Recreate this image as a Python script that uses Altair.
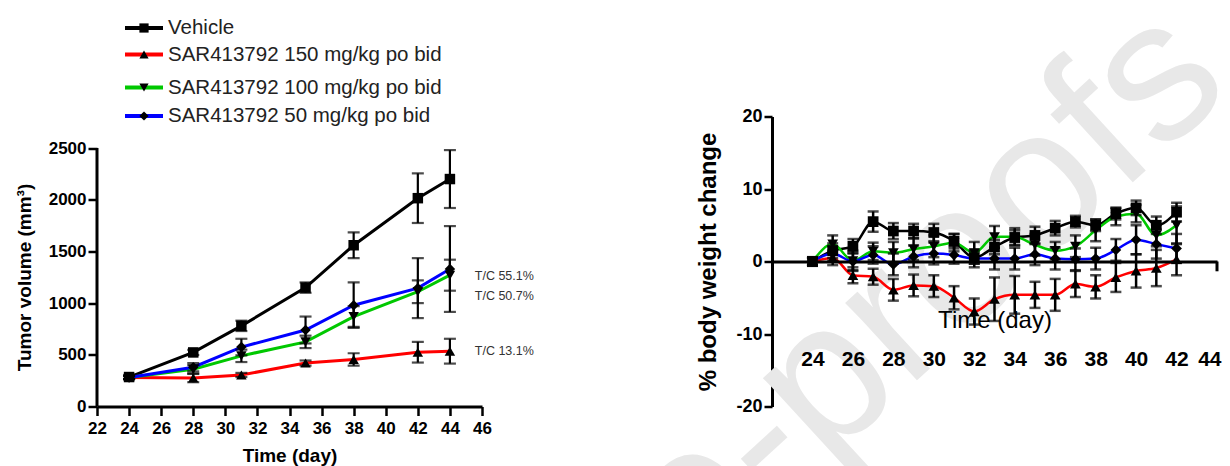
import altair as alt
import pandas as pd

FONT = "Liberation Sans, Arial, Helvetica, sans-serif"

# ---------------- shared series definitions ----------------
series_names = ["Vehicle", "SAR413792 150 mg/kg po bid",
                "SAR413792 100 mg/kg po bid", "SAR413792 50 mg/kg po bid"]
series_colors = ["#000000", "#ff0000", "#00c800", "#0000ff"]
series_shapes = ["square", "triangle-up", "triangle-down", "diamond"]

# ---------------- left panel: tumor volume ----------------
tv_days = [24, 28, 31, 35, 38, 42, 44]
tv_vehicle = [285, 523, 780, 1150, 1560, 2015, 2200]
tv_vehicle_err = [20, 25, 50, 50, 125, 240, 280]
tv_150 = [280, 275, 305, 420, 455, 525, 535]
tv_150_err = [15, 40, 20, 25, 60, 100, 120]
tv_100 = [280, 360, 490, 625, 870, 1110, 1270]
tv_100_err = [15, 40, 60, 60, 100, 110, 150]
tv_50 = [280, 380, 575, 740, 980, 1145, 1330]
tv_50_err = [15, 40, 80, 130, 220, 290, 415]

tc_labels = ["T/C 55.1%", "T/C 50.7%", "T/C 13.1%"]
tc_x = [45.55, 45.55, 45.55]
tc_y = [1260, 1064, 541]

# ---------------- right panel: body weight ----------------
rw_days = list(range(24, 43))
rw_vehicle = [0.0, 1.5, 2.1, 5.5, 4.2, 4.2, 4.0, 2.8, 0.5, 2.0, 3.3, 3.6, 4.6, 5.5, 5.0, 6.6, 7.4, 5.0, 6.8]
rw_vehicle_err = [0.6, 1.0, 1.0, 1.4, 1.1, 1.0, 1.2, 1.0, 0.8, 1.0, 1.0, 1.2, 1.0, 0.8, 0.8, 0.8, 1.0, 1.2, 1.3]
rw_150 = [0.0, 0.5, -1.9, -2.1, -3.9, -3.3, -3.4, -5.0, -6.9, -5.2, -4.6, -4.6, -4.6, -3.1, -3.5, -2.2, -1.3, -0.9, 0.3]
rw_150_err = [0.5, 1.0, 1.1, 1.1, 1.5, 1.5, 1.5, 1.6, 1.8, 3.0, 2.6, 1.8, 2.2, 1.8, 1.6, 2.0, 2.3, 2.5, 2.2]
rw_100 = [0.0, 2.4, 0.1, 1.4, 1.2, 1.7, 2.1, 2.6, 1.2, 3.4, 3.4, 2.3, 1.5, 2.1, 4.3, 6.2, 6.6, 3.6, 5.0]
rw_100_err = [0.5, 1.2, 1.4, 1.2, 1.5, 1.5, 1.5, 1.2, 1.5, 1.5, 1.2, 1.5, 1.2, 1.5, 1.5, 1.2, 1.2, 1.5, 2.6]
rw_50 = [0.0, 1.1, 0.0, 0.9, -0.4, 0.7, 1.1, 0.9, 0.4, 0.4, 0.4, 1.0, 0.4, 0.3, 0.4, 1.6, 3.0, 2.4, 1.8]
rw_50_err = [0.5, 1.0, 1.2, 1.2, 1.5, 1.5, 1.5, 1.2, 1.2, 1.5, 1.5, 1.5, 1.5, 1.5, 1.5, 1.5, 2.0, 2.0, 2.0]

# legend rows (pixel offsets above the left plot area)
legend_y = [-88.5, -62, -29, -0.5]


def long_table(days, values, errs):
    rows = []
    for i, (vals, ers) in enumerate(zip(values, errs)):
        for d, v, e in zip(days, vals, ers):
            rows.append(dict(day=d, value=v, lo=v - e, hi=v + e,
                             series=series_names[i], color=series_colors[i],
                             shape=series_shapes[i], order=i))
    return pd.DataFrame(rows)


tv = long_table(tv_days, [tv_vehicle, tv_150, tv_100, tv_50],
                [tv_vehicle_err, tv_150_err, tv_100_err, tv_50_err])
rw = long_table(rw_days, [rw_vehicle, rw_150, rw_100, rw_50],
                [rw_vehicle_err, rw_150_err, rw_100_err, rw_50_err])
tc = pd.DataFrame(dict(label=tc_labels, x=tc_x, y=tc_y))
leg = pd.DataFrame(dict(label=series_names, color=series_colors,
                        shape=series_shapes, ypix=legend_y))

LABEL_EXPR = "'' + datum.value"
NO_FRAME = alt.ViewBackground(stroke="transparent", strokeWidth=0, strokeOpacity=0)

# ---------------- left chart ----------------
lx = alt.Scale(domain=[22, 46], nice=False, zero=False)
ly = alt.Scale(domain=[0, 2805], nice=False)
L_XTITLE = "Time (day)"
L_YTITLE = "Tumor volume (mm³)"

lx_axis = alt.Axis(values=list(range(22, 47, 2)), tickSize=9, tickWidth=2.5,
                   tickColor="black", domainColor="black", domainWidth=3,
                   labelFont=FONT, labelFontSize=17, labelFontWeight="bold",
                   labelColor="black", labelPadding=5, labelFlush=False,
                   labelOverlap=False, labelExpr=LABEL_EXPR, grid=False,
                   titleFont=FONT, titleFontSize=19,
                   titleFontWeight="bold", titleColor="black",
                   titleY=49, titleBaseline="middle")
ly_axis = alt.Axis(values=[0, 500, 1000, 1500, 2000, 2500], domain=False,
                   domainOpacity=0, domainColor="transparent",
                   tickSize=9, tickWidth=2.5, tickColor="black",
                   labelFont=FONT, labelFontSize=17, labelFontWeight="bold",
                   labelColor="black", labelPadding=2, labelExpr=LABEL_EXPR,
                   grid=False, titleFont=FONT, titleFontSize=19,
                   titleFontWeight="bold", titleColor="black",
                   titleX=-73, titleY=160.5, titleAngle=270,
                   titleBaseline="middle")


def LX(field):
    return alt.X(field, scale=lx, axis=lx_axis, title=L_XTITLE)


def LY(field):
    return alt.Y(field, scale=ly, axis=ly_axis, title=L_YTITLE)


l_base = alt.Chart(tv)
l_lines = l_base.mark_line(strokeWidth=3).encode(
    x=LX("day:Q"), y=LY("value:Q"),
    color=alt.Color("color:N", scale=None),
    detail="series:N", order="day:Q",
)
l_err = l_base.mark_errorbar(ticks=True, size=12, thickness=2.2, color="black").encode(
    x=LX("day:Q"), y=LY("lo:Q"), y2="hi:Q", detail="series:N",
)
l_pts = l_base.mark_point(filled=True, opacity=1, size=110, color="black").encode(
    x=LX("day:Q"), y=LY("value:Q"),
    shape=alt.Shape("shape:N", scale=None),
)
l_yline = alt.Chart(pd.DataFrame(dict(x=[22], y0=[0], y1=[2500]))).mark_rule(
    strokeWidth=3, color="black").encode(x=LX("x:Q"), y=LY("y0:Q"), y2="y1:Q")
l_tc = alt.Chart(tc).mark_text(align="left", baseline="middle", font=FONT,
                               fontSize=12.5, color="#333333").encode(
    x=LX("x:Q"), y=LY("y:Q"), text="label:N")

leg_base = alt.Chart(leg)
leg_line = leg_base.mark_rule(strokeWidth=4).encode(
    x=alt.value(28), x2=alt.value(66),
    y=alt.Y("ypix:Q", scale=None, axis=None),
    color=alt.Color("color:N", scale=None))
leg_pt = leg_base.mark_point(filled=True, opacity=1, size=85, color="black").encode(
    x=alt.value(47),
    y=alt.Y("ypix:Q", scale=None, axis=None),
    shape=alt.Shape("shape:N", scale=None))
leg_txt = leg_base.mark_text(align="left", baseline="middle", font=FONT,
                             fontSize=20.5, color="#222222").encode(
    x=alt.value(71),
    y=alt.Y("ypix:Q", scale=None, axis=None),
    text="label:N")

left = alt.layer(l_lines, l_err, l_pts, l_yline, l_tc, leg_line, leg_pt, leg_txt
                 ).properties(width=385, height=290, view=NO_FRAME)

# ---------------- right chart ----------------
rx = alt.Scale(domain=[22, 44], nice=False, zero=False)
ry = alt.Scale(domain=[-20, 20], nice=False)
R_XTITLE = "Time (day)"
R_YTITLE = "% body weight change"

rx_axis = alt.Axis(values=list(range(24, 45, 2)), offset=-145, ticks=False,
                   tickSize=0, domainColor="black", domainWidth=3,
                   labelFont=FONT, labelFontSize=21, labelFontWeight="bold",
                   labelColor="black", labelPadding=87, labelFlush=False,
                   labelOverlap=False, labelExpr=LABEL_EXPR, grid=False,
                   labelAlign=alt.ExprRef(expr="datum.value == 44 ? 'right' : 'center'"),
                   labelOffset=alt.ExprRef(expr="datum.value == 44 ? 4 : 0"),
                   zindex=1, titleFont=FONT, titleFontSize=24,
                   titleFontWeight="normal", titleColor="black",
                   titleY=58.5, titleBaseline="middle")
ry_axis = alt.Axis(values=[-20, -10, 0, 10, 20], tickSize=8, tickWidth=2.5,
                   tickColor="black", domainColor="black", domainWidth=3,
                   labelFont=FONT, labelFontSize=18, labelFontWeight="bold",
                   labelColor="black", labelPadding=2, labelExpr=LABEL_EXPR,
                   grid=False, titleFont=FONT,
                   titleFontSize=24, titleFontWeight="bold", titleColor="black",
                   titleX=-63.5, titleY=145, titleAngle=270,
                   titleBaseline="middle")


def RX(field):
    return alt.X(field, scale=rx, axis=rx_axis, title=R_XTITLE)


def RY(field):
    return alt.Y(field, scale=ry, axis=ry_axis, title=R_YTITLE)


watermark = alt.Chart(pd.DataFrame(dict(t=["re-proofs"]))).mark_text(
    align="right", baseline="middle", angle=317.5, font=FONT, fontSize=200,
    color="#e8e8e8").encode(x=alt.value(422), y=alt.value(-71.5), text="t:N")

r_base = alt.Chart(rw)
r_lines = r_base.mark_line(strokeWidth=2.5, interpolate="monotone").encode(
    x=RX("day:Q"), y=RY("value:Q"),
    color=alt.Color("color:N", scale=None),
    detail="series:N", order="day:Q",
)
r_err = r_base.mark_errorbar(ticks=True, size=11, thickness=2.5, color="black").encode(
    x=RX("day:Q"), y=RY("lo:Q"), y2="hi:Q", detail="series:N",
)
r_pts = r_base.mark_point(filled=True, opacity=1, size=115, color="black").encode(
    x=RX("day:Q"), y=RY("value:Q"),
    shape=alt.Shape("shape:N", scale=None),
)
r_endtick = alt.Chart(pd.DataFrame(dict(x=[44], y0=[0], y1=[-1.35]))).mark_rule(
    strokeWidth=3, color="black").encode(x=RX("x:Q"), y=RY("y0:Q"), y2="y1:Q")

right = alt.layer(watermark, r_lines, r_err, r_pts, r_endtick
                  ).properties(width=445, height=290, view=NO_FRAME)

chart = alt.hconcat(left, right, spacing=290, bounds="flush").properties(
    autosize=alt.AutoSizeParams(type="none"),
    padding={"left": 89, "top": 108.5, "right": 1125, "bottom": 341},
).configure_view(stroke="transparent", strokeWidth=0
).configure_axis(domainColor="transparent", gridColor="transparent"
).configure(background="white")

chart.save("out.html", embed_options={"renderer": "svg", "actions": False})
